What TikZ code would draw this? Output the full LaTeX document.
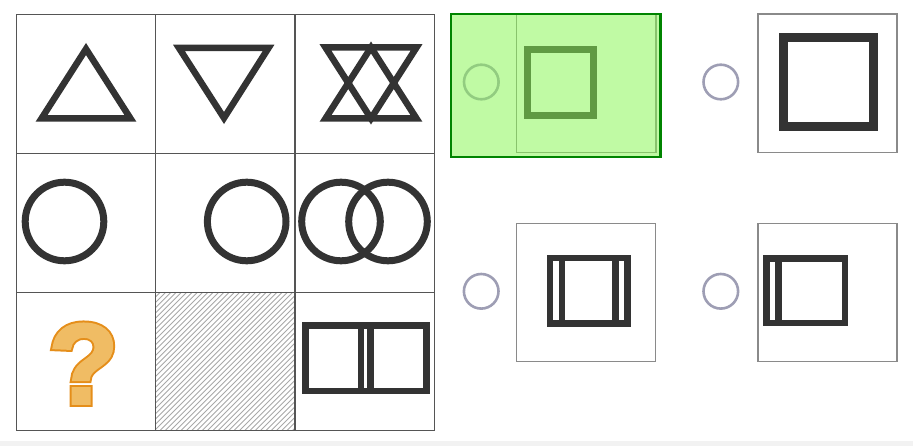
\documentclass[tikz,border=0pt]{standalone}
\usepackage{fontspec}
\usepackage{tikz}
\usetikzlibrary{positioning}
\newfontfamily\qfont{Liberation Sans Bold}[FakeBold=2.5]
\newfontfamily\qfontwide{Liberation Sans Bold}[FakeBold=6]
\definecolor{shape}{HTML}{333333}
\definecolor{gridline}{HTML}{555555}
\definecolor{frameline}{HTML}{8A8A8A}
\definecolor{radio}{RGB}{158,158,180}
\definecolor{hatchline}{HTML}{A8A8A8}
\definecolor{qfill}{RGB}{240,188,100}
\definecolor{qline}{RGB}{229,142,26}
\definecolor{selfill}{RGB}{136,246,83}
\definecolor{selline}{RGB}{0,132,0}
\definecolor{band}{HTML}{F2F2F2}

\begin{document}
\begin{tikzpicture}[x=1pt, y=-1pt,
  figline/.style={draw=shape, line width=6.5pt},
  grid/.style={draw=gridline, line width=1.5pt},
  frame/.style={draw=frameline, line width=1.2pt},
  radiobtn/.style={draw=radio, line width=2.6pt},
  hatch/.style={draw=hatchline, line width=0.9pt},
  qmarkwide/.style={anchor=base, inner sep=0pt, text=qline, font=\qfontwide\fontsize{114}{114}\selectfont},
  qmarkfill/.style={anchor=base, inner sep=0pt, text=qfill, font=\qfont\fontsize{114}{114}\selectfont}]
\useasboundingbox (0,0) rectangle (918,446);
\fill[band] (0,441) rectangle (913,446);
% -- matrix: hatched cell --
\begin{scope}
\clip (155.5,292.5) rectangle (295,430.5);
\foreach \x in {10,15.3,...,300} \draw[hatch] (\x,432) -- ++(142,-142);
\end{scope}
% -- matrix: grid --
\draw[grid] (16.5,14.5) rectangle (434.5,430.5);
\draw[grid] (155.5,14.5) to (155.5,430.5);
\draw[grid] (295,14.5) to (295,430.5);
\draw[grid] (16.5,153.5) to (434.5,153.5);
\draw[grid] (16.5,292.5) to (434.5,292.5);
% -- row 0: triangles --
\draw[figline] (41.5,118.5) -- (130.5,118.5) -- (86,49) -- cycle;
\draw[figline] (179,48) -- (268.5,48) -- (224,118) -- cycle;
\draw[figline] (325.5,118.5) -- (416.5,118.5) -- (371,47.5) -- cycle;
\draw[figline] (325.5,47.5) -- (416.5,47.5) -- (371,118.5) -- cycle;
% -- row 1: circles --
\draw[figline, line width=7pt] (64.5,221.5) circle (39.3);
\draw[figline, line width=7pt] (246.7,221.5) circle (39.3);
\draw[figline, line width=7pt] (341,221.5) circle (39.3);
\draw[figline, line width=7pt] (388,221.5) circle (39.3);
% -- row 2: question, hatched, double square --
\node[qmarkwide] (qmarkline) at (83.5,403.5) {?};
\node[qmarkfill] (qmark) at (83.5,403.5) {?};
\draw[figline] (305.5,325.5) rectangle (426.7,391);
\draw[figline, line width=5.5pt] (360.8,325.5) to (360.8,391);
\draw[figline] (370.5,325.5) to (370.5,391);
% -- option 1 (selected) --
\draw[radiobtn] (481.3,82) circle (17.3);
\draw[frame] (516.7,14.3) rectangle (656,152.7);
\draw[figline, line width=7pt] (527,49.5) rectangle (593.3,115.5);
\fill[selfill, fill opacity=0.53] (450,12.7) rectangle (661.7,158);
\draw[selline, line width=2.5pt] (451.2,14) rectangle (660.5,156.8);
% -- option 2 --
\draw[radiobtn] (720.8,82) circle (17.3);
\draw[frame] (758,14) rectangle (897,152.7);
\draw[figline, line width=9pt] (783.5,37.8) rectangle (873.5,126.5);
% -- option 3 --
\draw[radiobtn] (481.2,291.3) circle (17.3);
\draw[frame] (516.7,223.3) rectangle (655.3,361.7);
\draw[figline] (550,258) rectangle (627.3,323.5);
\draw[figline] (562,258) to (562,323.5);
\draw[figline] (615.5,258) to (615.5,323.5);
% -- option 4 --
\draw[radiobtn] (720.8,291.3) circle (17.3);
\draw[frame] (758,223.3) rectangle (897,361.7);
\draw[figline] (766.5,258.5) rectangle (845,323);
\draw[figline] (778.7,258.5) to (778.7,323);
\end{tikzpicture}
\end{document}
